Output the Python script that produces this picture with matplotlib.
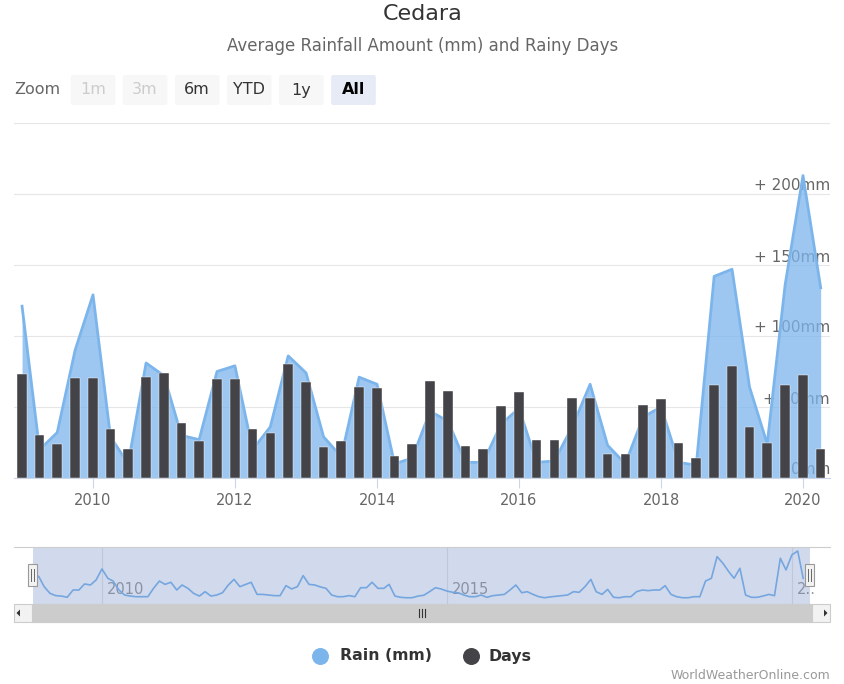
import numpy as np
import pandas as pd
import matplotlib
matplotlib.use("Agg")
import matplotlib.pyplot as plt
import matplotlib.transforms as mtransforms
from matplotlib.patches import Rectangle, FancyBboxPatch, Polygon
from matplotlib.lines import Line2D


W, H = 845, 684

TITLE = "Cedara"
SUBTITLE = "Average Rainfall Amount (mm) and Rainy Days"

# quarterly groups shown in the main chart
quarter_start = pd.date_range("2009-01-01", periods=46, freq="QS")
rain_mm = [121, 20, 32, 90, 129, 29, 10, 81, 72, 30, 27, 75, 79, 20, 36,
           86, 74, 29, 15, 71, 66, 10, 14, 47, 40, 11, 11, 38, 49, 11,
           12, 36, 66, 23, 10, 43, 50, 11, 9, 142, 147, 64, 24, 136, 213,
           134]
rainy_days = [23.4, 9.8, 7.6, 22.5, 22.5, 11.1, 6.6, 22.8, 23.7, 12.3,
              8.3, 22.2, 22.2, 11.1, 10.1, 25.7, 21.6, 7.0, 8.3, 20.6,
              20.3, 5.0, 7.6, 21.9, 19.7, 7.3, 6.6, 16.2, 19.3, 8.6,
              8.6, 18.0, 18.0, 5.4, 5.4, 16.5, 17.7, 7.9, 4.4, 21.0,
              25.3, 11.4, 7.9, 21.0, 23.1, 6.6]

# monthly rain drawn in the navigator strip
month_start = pd.date_range("2009-01-01", periods=135, freq="MS")
nav_rain_mm = [123, 107, 59, 27, 16, 14, 8, 43, 43, 72, 67, 91,
               144, 99, 86, 43, 19, 14, 11, 11, 11, 51, 86, 70,
               80, 43, 67, 51, 27, 14, 35, 14, 19, 30, 67, 94,
               59, 70, 80, 22, 22, 19, 16, 16, 64, 48, 59, 112,
               70, 67, 58, 51, 19, 11, 11, 16, 11, 54, 54, 80,
               51, 51, 70, 14, 8, 6, 6, 14, 18, 35, 54, 48,
               38, 32, 30, 19, 11, 11, 19, 8, 16, 19, 22, 43,
               67, 30, 35, 22, 11, 6, 10, 13, 16, 19, 35, 32,
               59, 94, 35, 22, 46, 8, 6, 11, 11, 35, 43, 40,
               43, 43, 64, 22, 11, 6, 6, 11, 11, 86, 99, 203,
               171, 131, 99, 147, 19, 8, 8, 14, 22, 16, 195, 139,
               211, 230, 99]

y_ticks = [0, 50, 100, 150, 200, 250]
y_labels = ["0mm", "+ 50mm", "+ 100mm", "+ 150mm", "+ 200mm", ""]
x_tick_years = [2010, 2012, 2014, 2016, 2018, 2020]
nav_tick_years = [2010, 2015, 2020]
nav_tick_labels = ["2010", "2015", "2\u2025"]
zoom_buttons = ["1m", "3m", "6m", "YTD", "1y", "All"]

RAIN_COLOR = "#7cb5ec"
DAYS_COLOR = "#434348"

plt.rcParams["font.family"] = ["DejaVu Sans"]


def add_axes_px(fig, left, top, right, bottom, **kw):
    return fig.add_axes([left / W, 1 - bottom / H,
                         (right - left) / W, (bottom - top) / H], **kw)


fig = plt.figure(figsize=(W / 100, H / 100), dpi=100)

# ---- main chart ----
ax = add_axes_px(fig, 14, 123, 830, 478)
px_per_day = 710 / 3652
jan2010 = pd.Timestamp("2010-01-01")
jan2020 = pd.Timestamp("2020-01-01")
ax.set_xlim(jan2010 - pd.Timedelta(days=(93 - 14) / px_per_day),
            jan2020 + pd.Timedelta(days=(830 - 803) / px_per_day))
ax.set_ylim(0, 250)

ax.set_yticks(y_ticks)
ax.yaxis.grid(True, color="#e6e6e6", linewidth=0.8)
ax.set_axisbelow(True)
ax.tick_params(axis="y", length=0, labelleft=False)
for s in ("top", "left", "right"):
    ax.spines[s].set_visible(False)
ax.spines["bottom"].set_color("#ccd6eb")

ax.set_xticks([pd.Timestamp(f"{y}-01-01") for y in x_tick_years])
ax.set_xticklabels([str(y) for y in x_tick_years])
ax.tick_params(axis="x", length=7.5, width=0.8, color="#ccd6eb", pad=3.5,
               labelsize=10.5, labelcolor="#666666")

label_trans = mtransforms.offset_copy(ax.get_yaxis_transform(), fig=fig,
                                      x=0, y=8, units="dots")
for v, lab in zip(y_ticks, y_labels):
    ax.text(1.0, v, lab, transform=label_trans, ha="right", va="center",
            fontsize=11, color="#666666", zorder=1.5)

ax.fill_between(quarter_start, rain_mm, 0, color=RAIN_COLOR, alpha=0.75,
                linewidth=0, zorder=2)
ax.plot(quarter_start, rain_mm, color=RAIN_COLOR, linewidth=2, zorder=2.1)

ax2 = ax.twinx()
ax2.set_ylim(0, 80)
ax2.bar(quarter_start, rainy_days, width=9.6 / px_per_day, color=DAYS_COLOR,
        edgecolor="white", linewidth=0.3)
ax2.set_axis_off()

# ---- navigator ----
nav = add_axes_px(fig, 14, 547, 830, 604)
nav_ppd = 69 / 365.25
jan2009 = pd.Timestamp("2009-01-01")
nav.set_xlim(jan2009 - pd.Timedelta(days=(33 - 14) / nav_ppd),
             jan2009 + pd.Timedelta(days=(830 - 33) / nav_ppd))
nav.set_ylim(-24, 249)
nav.set_xticks([])
nav.set_yticks([])
for s in nav.spines.values():
    s.set_visible(False)

nav_label_trans = mtransforms.offset_copy(nav.get_xaxis_transform(), fig=fig,
                                          x=5, y=0, units="dots")
for y, lab in zip(nav_tick_years, nav_tick_labels):
    d = pd.Timestamp(f"{y}-01-01")
    nav.axvline(d, color="#e6e6e6", linewidth=0.8, zorder=1)
    nav.text(d, 0.25, lab, transform=nav_label_trans, ha="left", va="center",
             fontsize=10.5, color="#999999", zorder=1.2)

nav.plot(month_start, nav_rain_mm, color=RAIN_COLOR, linewidth=1.2, zorder=1.5)
nav.axvspan(jan2009, jan2009 + pd.Timedelta(days=(810 - 33) / nav_ppd),
            color=(102 / 255, 133 / 255, 194 / 255, 0.3), linewidth=0, zorder=2)

# ---- decorations drawn in pixel space ----
deco = fig.add_axes([0, 0, 1, 1], zorder=10)
deco.set_xlim(0, W)
deco.set_ylim(H, 0)
deco.set_axis_off()
deco.patch.set_alpha(0)

deco.text(422.5, 14, TITLE, ha="center", va="center", fontsize=16,
          color="#333333")
deco.text(422.5, 46, SUBTITLE, ha="center", va="center", fontsize=12,
          color="#666666")

# range selector
deco.text(14, 90, "Zoom", ha="left", va="center", fontsize=11.5,
          color="#666666")
for i, lab in enumerate(zoom_buttons):
    x0 = 70.7 + i * 52.1
    selected = lab == "All"
    disabled = lab in ("1m", "3m")
    deco.add_patch(FancyBboxPatch((x0, 75), 44.6, 30,
                                  boxstyle="round,pad=0,rounding_size=2",
                                  facecolor="#e6ebf5" if selected else "#f7f7f7",
                                  edgecolor="none"))
    deco.text(x0 + 22.3, 90, lab, ha="center", va="center", fontsize=11.5,
              color="#cccccc" if disabled else ("#000000" if selected else "#333333"),
              fontweight="bold" if selected else "normal")

# navigator outline and handles
deco.plot([14, 830], [547, 547], color="#cccccc", linewidth=0.8)
for hx in (33, 810):
    deco.add_patch(Rectangle((hx - 4.5, 564), 9, 22, facecolor="#f2f2f2",
                             edgecolor="#999999", linewidth=0.8))
    for dx in (-1.5, 1.5):
        deco.plot([hx + dx, hx + dx], [569, 581], color="#666666",
                  linewidth=0.7)

# scrollbar
deco.add_patch(Rectangle((14, 604), 816, 18, facecolor="#f2f2f2",
                         edgecolor="#cccccc", linewidth=0.8))
deco.add_patch(Rectangle((32, 604), 780, 18, facecolor="#cccccc",
                         edgecolor="#cccccc", linewidth=0.8))
for rx in (419, 422, 425):
    deco.plot([rx, rx], [609, 617], color="#333333", linewidth=0.8)
deco.add_patch(Polygon([[20, 609.5], [20, 616.5], [16.5, 613]], closed=True,
                       facecolor="#333333", edgecolor="none"))
deco.add_patch(Polygon([[824, 609.5], [824, 616.5], [827.5, 613]], closed=True,
                       facecolor="#333333", edgecolor="none"))

# legend
deco.add_line(Line2D([320], [656], marker="o", markersize=11.2,
                     color=RAIN_COLOR, linestyle="none"))
deco.text(340, 656, "Rain (mm)", ha="left", va="center", fontsize=11.3,
          fontweight="bold", color="#333333")
deco.add_line(Line2D([471], [656], marker="o", markersize=11.2,
                     color=DAYS_COLOR, linestyle="none"))
deco.text(489, 656, "Days", ha="left", va="center", fontsize=11.3,
          fontweight="bold", color="#333333")

deco.text(830, 682, "WorldWeatherOnline.com", ha="right", va="bottom",
          fontsize=9, color="#999999")

fig.savefig("out.png", dpi=100)
plt.close(fig)
